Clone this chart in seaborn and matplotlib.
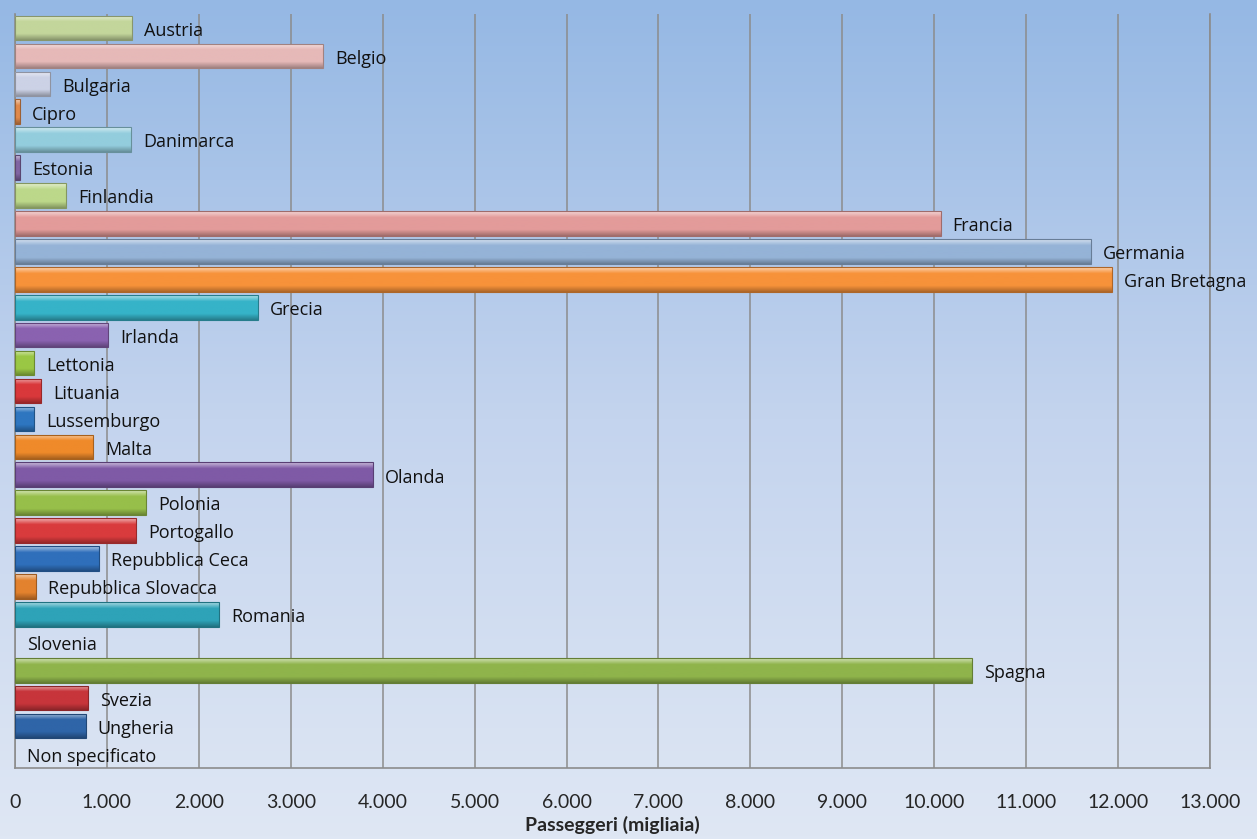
import numpy as np
import pandas as pd
import seaborn as sns
import matplotlib.pyplot as plt
import matplotlib.colors as mcolors
from matplotlib.ticker import FuncFormatter

# Passengers by country of origin (thousands)
paesi = ['Austria', 'Belgio', 'Bulgaria', 'Cipro', 'Danimarca', 'Estonia', 'Finlandia',
         'Francia', 'Germania', 'Gran Bretagna', 'Grecia', 'Irlanda', 'Lettonia', 'Lituania',
         'Lussemburgo', 'Malta', 'Olanda', 'Polonia', 'Portogallo', 'Repubblica Ceca',
         'Repubblica Slovacca', 'Romania', 'Slovenia', 'Spagna', 'Svezia', 'Ungheria',
         'Non specificato']
passeggeri = [1270, 3350, 380, 55, 1260, 55, 555,
              10070, 11700, 11930, 2640, 1010, 210, 285,
              210, 850, 3890, 1425, 1315, 915,
              230, 2220, 0, 10410, 795, 770,
              0]
colori = ['#c3d69b', '#e6b9b8', '#ccd2e6', '#e0894a', '#93cddd', '#8064a2', '#bcd88a',
          '#e39b9a', '#95b3d7', '#f7923a', '#36b3c8', '#8a62b0', '#9ac744', '#d9383b',
          '#2e76c0', '#ef8a2a', '#7f5aa6', '#97bf4a', '#d93b3d', '#2f6fbb',
          '#e3822e', '#2ea3b8', '#9bbb59', '#8fb44b', '#c7353b', '#2f65a8',
          '#4f81bd']
x_ticks = list(range(0, 14000, 1000))

df = pd.DataFrame({'paese': paesi, 'passeggeri': passeggeri})

sns.set_style('white')
plt.rcParams['font.family'] = ['Open Sans', 'DejaVu Sans']

fig = plt.figure(figsize=(12.57, 8.39), dpi=100)

# background gradient (Excel-like blue fade)
bg = fig.add_axes([0, 0, 1, 1], zorder=-10)
grad = np.linspace(0, 1, 256).reshape(-1, 1)
bg_cmap = mcolors.LinearSegmentedColormap.from_list('bg', ['#95b8e4', '#c4d4ee', '#dfe7f4'])
bg.imshow(grad, aspect='auto', cmap=bg_cmap, extent=[0, 1, 0, 1], origin='upper')
bg.axis('off')

ax = fig.add_axes([15 / 1257, 1 - 768 / 839, (1210 - 15) / 1257, (768 - 14) / 839])
ax.patch.set_alpha(0)

sns.barplot(data=df, y='paese', x='passeggeri', hue='paese', palette=colori,
            orient='h', width=0.88, legend=False, ax=ax, zorder=3)

# bevelled look: gradient fill clipped to each bar
for p, c in zip(ax.patches, colori):
    x0, y0, w, h = p.get_x(), p.get_y(), p.get_width(), p.get_height()
    if w <= 0:
        p.set_visible(False)
        continue
    rgb = np.array(mcolors.to_rgb(c))
    light = rgb + (1 - rgb) * 0.6
    dark = rgb * 0.7
    cmap = mcolors.LinearSegmentedColormap.from_list('b', [light, rgb, rgb, rgb, dark])
    im = ax.imshow(np.linspace(0, 1, 64).reshape(-1, 1), cmap=cmap, aspect='auto',
                   extent=[x0, x0 + w, y0 + h, y0], origin='upper', zorder=4)
    im.set_clip_path(p)
    p.set_edgecolor(tuple(dark))
    p.set_linewidth(0.8)
    p.set_zorder(5)
    p.set_facecolor('none')

ax.set_xlim(0, 13000)
ax.set_ylim(len(paesi) - 0.5, -0.5)
ax.set_xticks(x_ticks)
ax.xaxis.set_major_formatter(FuncFormatter(lambda v, _: f'{int(v):,}'.replace(',', '.')))
ax.tick_params(axis='x', length=0, pad=19, labelsize=14)
for t in ax.get_xticklabels():
    t.set_family(['Lato', 'DejaVu Sans'])
ax.set_yticks([])
ax.set_ylabel('')
ax.set_xlabel('Passeggeri (migliaia)', fontsize=14, fontweight='bold', labelpad=3,
              family=['Lato', 'DejaVu Sans'])
ax.grid(axis='x', color='#8c8c8c', linewidth=1.1, zorder=0)
for s in ['left', 'bottom', 'right']:
    ax.spines[s].set_color('#8c8c8c')
    ax.spines[s].set_linewidth(1.2)
ax.spines['top'].set_visible(False)

# data labels outside bar end
for i, (name, val) in enumerate(zip(paesi, passeggeri)):
    ax.text(val + 130, i + 0.1, name, va='center', ha='left', fontsize=13,
            color='#111111', zorder=6)

fig.savefig('out.png', dpi=100)
